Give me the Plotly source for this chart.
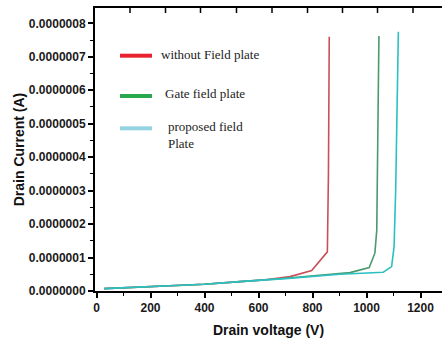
import plotly.graph_objects as go

# ---- data ----
x_without = [28, 200, 400, 531, 620, 717, 797, 855, 859, 862]
y_without = [0.07e-7, 0.13e-7, 0.20e-7, 0.28e-7, 0.33e-7, 0.43e-7, 0.61e-7, 1.17e-7, 3.5e-7, 7.6e-7]

x_gate = [28, 200, 400, 531, 700, 939, 1010, 1031, 1038, 1046]
y_gate = [0.07e-7, 0.13e-7, 0.20e-7, 0.28e-7, 0.38e-7, 0.55e-7, 0.70e-7, 1.13e-7, 1.82e-7, 7.62e-7]

x_prop = [28, 200, 400, 531, 700, 902, 1062, 1093, 1102, 1108, 1118]
y_prop = [0.07e-7, 0.13e-7, 0.20e-7, 0.28e-7, 0.37e-7, 0.50e-7, 0.56e-7, 0.73e-7, 1.32e-7, 3.0e-7, 7.75e-7]

series_names = ["without Field plate", "Gate field plate", "proposed field<br>Plate"]
line_colors = ["#c8505a", "#4a9a6c", "#2cc0c2"]
legend_colors = ["#e8222e", "#2aa84e", "#94d4e2"]

x_ticks = [0, 200, 400, 600, 800, 1000, 1200]
y_ticks = [i * 1e-7 for i in range(9)]
y_ticklabels = ["%.7f" % v for v in y_ticks]

# top-frame tick marks (Origin-style frame, unlabeled), pixel positions
top_tick_px = [130, 165.5, 200.5, 236.5, 272, 307.5, 342.5, 377.5, 413]

fig = go.Figure()
for xs, ys, c, n in zip([x_without, x_gate, x_prop], [y_without, y_gate, y_prop], line_colors, series_names):
    fig.add_trace(go.Scatter(x=xs, y=ys, mode="lines", line=dict(color=c, width=1.6),
                             name=n, showlegend=False))

axis_font = dict(family="Liberation Sans, Arial", size=12, color="#1a1a1a", weight="bold")
title_font = dict(family="Liberation Sans, Arial", size=14, color="#111111", weight="bold")

TOP = 8
PLOT_H = 291 - TOP
fig.update_layout(
    width=442, height=342,
    margin=dict(l=95, r=0, t=TOP, b=51, autoexpand=False),
    paper_bgcolor="white", plot_bgcolor="white",
    xaxis=dict(
        range=[-5.6, 1279.6], tickvals=x_ticks, ticktext=[str(v) for v in x_ticks],
        showgrid=False, zeroline=False, showline=True, linecolor="black", linewidth=2,
        mirror=True, automargin=False,
        ticks="outside", ticklen=5, tickwidth=1.5, tickcolor="black",
        minor=dict(dtick=100, tick0=0, ticks="outside", ticklen=3, tickwidth=1.2, tickcolor="black"),
        tickfont=axis_font,
        title=dict(text="Drain voltage (V)", font=title_font, standoff=11),
    ),
    yaxis=dict(
        range=[0, PLOT_H / 33.46 * 1e-7], tickvals=y_ticks, ticktext=y_ticklabels,
        showgrid=False, zeroline=False, showline=True, linecolor="black", linewidth=2,
        automargin=False,
        ticks="outside", ticklen=5, tickwidth=1.5, tickcolor="black",
        minor=dict(dtick=0.5e-7, tick0=0, ticks="outside", ticklen=3, tickwidth=1.2, tickcolor="black"),
        tickfont=axis_font,
        title=dict(text="Drain Current (A)", font=title_font, standoff=1),
    ),
    showlegend=False,
)

plot_w = 442 - 95
for px in top_tick_px:
    xf = (px - 95) / plot_w
    fig.add_shape(type="line", xref="paper", yref="paper", x0=xf, x1=xf, y0=1, y1=1 - 5 / PLOT_H,
                  line=dict(color="black", width=1.5), layer="above")

# legend drawn as shapes + text (colours differ from the curves, as in the reference)
leg_px = [55.7, 96, 128.3]
txt_px = [55, 93.3, 134.5]
txt_x_px = [159, 162.5, 166]
for i, (c, n) in enumerate(zip(legend_colors, series_names)):
    ly = (291 - leg_px[i]) / PLOT_H
    fig.add_shape(type="line", xref="paper", yref="paper",
                  x0=(120 - 95) / plot_w, x1=(152 - 95) / plot_w, y0=ly, y1=ly,
                  line=dict(color=c, width=4))
    fig.add_annotation(xref="paper", yref="paper", x=(txt_x_px[i] - 95) / plot_w,
                       y=(291 - txt_px[i]) / PLOT_H, text=n, showarrow=False,
                       xanchor="left", yanchor="middle", align="left",
                       font=dict(family="Liberation Serif, Times New Roman", size=13, color="#222222"))

fig.write_html("out.html", post_script="document.body.style.margin='0';",
               config={"displayModeBar": False})
